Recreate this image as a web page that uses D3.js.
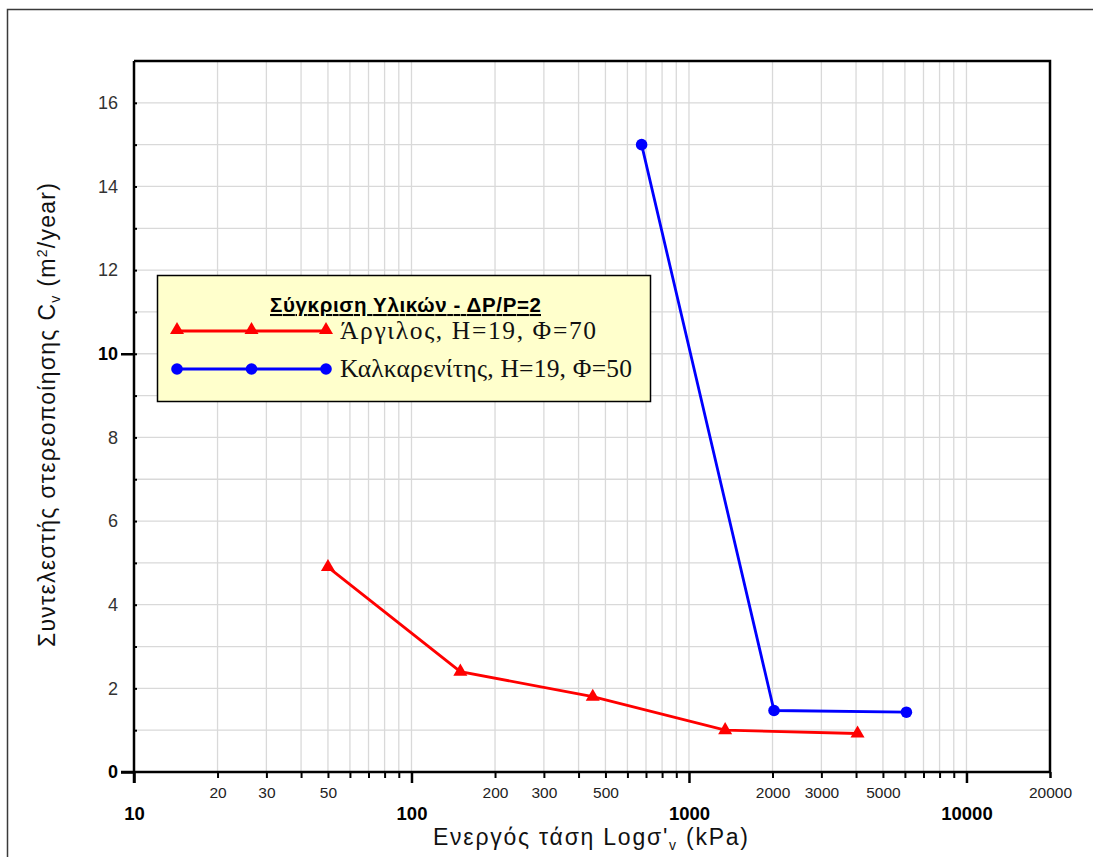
<!DOCTYPE html>
<html>
<head>
<meta charset="utf-8">
<script src="https://cdn.jsdelivr.net/npm/d3@7"></script>
<style>
  html, body { margin: 0; padding: 0; background: #fff; }
  svg { display: block; }
</style>
</head>
<body>
<svg id="chart" width="1093" height="857"></svg>
<script>
// Consolidation coefficient vs effective stress, two materials, load increment ratio ΔP/P = 2
const clayStress = [50, 150, 450, 1350, 4050];
const clayCv = [4.9, 2.4, 1.8, 1.0, 0.92];
const calcStress = [675, 2025, 6075];
const calcCv = [15.0, 1.47, 1.43];

const seriesNames = ["Άργιλος, Η=19, Φ=70", "Καλκαρενίτης, Η=19, Φ=50"];
const legendTitle = "Σύγκριση Υλικών - ΔΡ/Ρ=2";

const yTickValues = [0, 2, 4, 6, 8, 10, 12, 14, 16];
const yBoldTicks = [0, 10];
const xMajorTicks = [10, 100, 1000, 10000];
const xMinorLabelTicks = [20, 30, 50, 200, 300, 500, 2000, 3000, 5000, 20000];

const svg = d3.select("#chart");
const plotLeft = 134, plotRight = 1050, plotTop = 61, plotBottom = 772;
const sans = "Liberation Sans, Arial, sans-serif";
const serif = "Liberation Serif, Times New Roman, serif";

const x = d3.scaleLog().domain([10, 20000]).range([plotLeft, plotRight]);
const y = d3.scaleLinear().domain([0, 17]).range([plotBottom, plotTop]);

// outer chart frame
svg.append("rect").attr("x", 7.5).attr("y", 9.5).attr("width", 1200).attr("height", 1000)
  .attr("fill", "#fff").attr("stroke", "#3a3a3a").attr("stroke-width", 1.5);

// minor log positions for the vertical grid
const xGrid = [];
for (let d = 10; d < 20000; d *= 10) {
  for (let m = 1; m <= 9; m++) {
    const v = d * m;
    if (v > 10 && v <= 20000) xGrid.push(v);
  }
}
xGrid.push(20000);

const grid = svg.append("g");
grid.selectAll("line.v").data(xGrid).join("line")
  .attr("x1", d => x(d)).attr("x2", d => x(d))
  .attr("y1", plotTop).attr("y2", plotBottom)
  .attr("stroke", "#d9d9d9").attr("stroke-width", 1.3);
grid.selectAll("line.h").data(d3.range(1, 17)).join("line")
  .attr("x1", plotLeft).attr("x2", plotRight)
  .attr("y1", d => y(d)).attr("y2", d => y(d))
  .attr("stroke", "#d9d9d9").attr("stroke-width", 1.3);

// plot frame (top and right)
svg.append("path")
  .attr("d", `M${plotLeft},${plotTop}H${plotRight}V${plotBottom}`)
  .attr("fill", "none").attr("stroke", "#000").attr("stroke-width", 2.5);

// x axis: ticks
const xAxisG = svg.append("g").attr("transform", `translate(0,${plotBottom})`);
xAxisG.call(d3.axisBottom(x).tickValues(xGrid.filter(v => !xMajorTicks.includes(v))).tickSize(6).tickFormat(""));
xAxisG.selectAll(".tick line").attr("stroke", "#000").attr("stroke-width", 2);
xAxisG.select(".domain").remove();

const xMajG = svg.append("g").attr("transform", `translate(0,${plotBottom})`);
xMajG.call(d3.axisBottom(x).tickValues(xMajorTicks).tickSize(11).tickFormat(""));
xMajG.selectAll(".tick line").attr("stroke", "#000").attr("stroke-width", 2.5);
xMajG.select(".domain").remove();

// x minor labels
const xMinLab = svg.append("g").attr("transform", `translate(0,${plotBottom})`);
xMinLab.call(d3.axisBottom(x).tickValues(xMinorLabelTicks).tickSize(0).tickPadding(15).tickFormat(d3.format("d")));
xMinLab.select(".domain").remove();
xMinLab.selectAll("text").attr("font-family", sans)
  .attr("font-size", 15.5).attr("fill", "#222");

// x major labels
const xMajLab = svg.append("g").attr("transform", `translate(0,${plotBottom})`);
xMajLab.call(d3.axisBottom(x).tickValues(xMajorTicks).tickSize(0).tickPadding(35).tickFormat(d3.format("d")));
xMajLab.select(".domain").remove();
xMajLab.selectAll("text").attr("font-family", sans)
  .attr("font-size", 18.5).attr("font-weight", "bold").attr("fill", "#000");

// y axis labels
const yAxisG = svg.append("g").attr("transform", `translate(${plotLeft},0)`);
yAxisG.call(d3.axisLeft(y).tickValues(yTickValues).tickSize(0).tickPadding(16).tickFormat(d3.format("d")));
yAxisG.select(".domain").remove();
yAxisG.selectAll("text").attr("font-family", sans)
  .attr("font-size", 18)
  .attr("font-weight", d => yBoldTicks.includes(d) ? "bold" : "normal")
  .attr("fill", d => yBoldTicks.includes(d) ? "#000" : "#333");

// y minor ticks (inside) and major ticks (outside)
const yMinG = svg.append("g").attr("transform", `translate(${plotLeft},0)`);
yMinG.call(d3.axisRight(y).tickValues(d3.range(1, 17)).tickSize(3).tickFormat(""));
yMinG.selectAll(".tick line").attr("stroke", "#000").attr("stroke-width", 2);
yMinG.select(".domain").remove();

const yMajG = svg.append("g").attr("transform", `translate(${plotLeft},0)`);
yMajG.call(d3.axisLeft(y).tickValues(yBoldTicks).tickSize(13).tickFormat(""));
yMajG.selectAll(".tick line").attr("stroke", "#000").attr("stroke-width", 2.5);
yMajG.select(".domain").remove();

// axis lines
svg.append("line").attr("x1", plotLeft).attr("x2", plotLeft).attr("y1", plotTop).attr("y2", plotBottom + 11)
  .attr("stroke", "#000").attr("stroke-width", 2.5);
svg.append("line").attr("x1", plotLeft - 13).attr("x2", plotRight).attr("y1", plotBottom).attr("y2", plotBottom)
  .attr("stroke", "#000").attr("stroke-width", 2.5);

// series
const line = d3.line().x(d => x(d[0])).y(d => y(d[1]));
const clay = clayStress.map((s, i) => [s, clayCv[i]]);
const calc = calcStress.map((s, i) => [s, calcCv[i]]);

const tri = d3.symbol().type(d3.symbolTriangle).size(85);

svg.append("path").datum(clay).attr("d", line)
  .attr("fill", "none").attr("stroke", "#ff0000").attr("stroke-width", 2.8);
svg.selectAll("path.clay-pt").data(clay).join("path").attr("class", "clay-pt")
  .attr("d", tri).attr("transform", d => `translate(${x(d[0])},${y(d[1])})`)
  .attr("fill", "#ff0000");

svg.append("path").datum(calc).attr("d", line)
  .attr("fill", "none").attr("stroke", "#0000ff").attr("stroke-width", 2.8);
svg.selectAll("circle.calc-pt").data(calc).join("circle").attr("class", "calc-pt")
  .attr("cx", d => x(d[0])).attr("cy", d => y(d[1])).attr("r", 5.8)
  .attr("fill", "#0000ff");

// legend
const lg = svg.append("g");
lg.append("rect").attr("x", 157.5).attr("y", 275.5).attr("width", 493).attr("height", 126)
  .attr("fill", "#ffffcc").attr("stroke", "#000").attr("stroke-width", 1.5);
lg.append("text").attr("x", 270).attr("y", 312)
  .attr("font-family", sans).attr("font-size", 20.5)
  .attr("font-weight", "bold").attr("text-decoration", "underline").attr("fill", "#000")
  .attr("textLength", 271).attr("lengthAdjust", "spacing")
  .text(legendTitle);

const legendRows = [
  { name: seriesNames[0], color: "#ff0000", kind: "tri", yy: 331, w: 256 },
  { name: seriesNames[1], color: "#0000ff", kind: "circle", yy: 369, w: 292 }
];
legendRows.forEach(r => {
  lg.append("line").attr("x1", 177).attr("x2", 326).attr("y1", r.yy).attr("y2", r.yy)
    .attr("stroke", r.color).attr("stroke-width", 2.8);
  [177, 251.5, 326].forEach(px => {
    if (r.kind === "tri") {
      lg.append("path").attr("d", tri).attr("transform", `translate(${px},${r.yy - 1})`).attr("fill", r.color);
    } else {
      lg.append("circle").attr("cx", px).attr("cy", r.yy).attr("r", 5.8).attr("fill", r.color);
    }
  });
  lg.append("text").attr("x", 340).attr("y", r.yy + 8)
    .attr("font-family", serif).attr("font-size", 25.5)
    .attr("textLength", r.w).attr("lengthAdjust", "spacing")
    .attr("fill", "#111").text(r.name);
});

// axis titles
const xt = svg.append("text").attr("x", 433).attr("y", 845)
  .attr("font-family", sans).attr("font-size", 23).attr("fill", "#111")
  .attr("textLength", 315).attr("lengthAdjust", "spacing");
xt.append("tspan").text("Ενεργός τάση Logσ'");
xt.append("tspan").attr("font-size", 14).attr("dy", 5).text("v");
xt.append("tspan").attr("dy", -5).text(" (kPa)");

const yt = svg.append("text").attr("transform", "translate(55,647) rotate(-90)")
  .attr("font-family", sans).attr("font-size", 23).attr("fill", "#111")
  .attr("textLength", 464).attr("lengthAdjust", "spacing");
yt.append("tspan").text("Συντελεστής στερεοποίησης C");
yt.append("tspan").attr("font-size", 14).attr("dy", 5).text("v");
yt.append("tspan").attr("dy", -5).text(" (m");
yt.append("tspan").attr("font-size", 14).attr("dy", -8).text("2");
yt.append("tspan").attr("dy", 8).text("/year)");
</script>
</body>
</html>
